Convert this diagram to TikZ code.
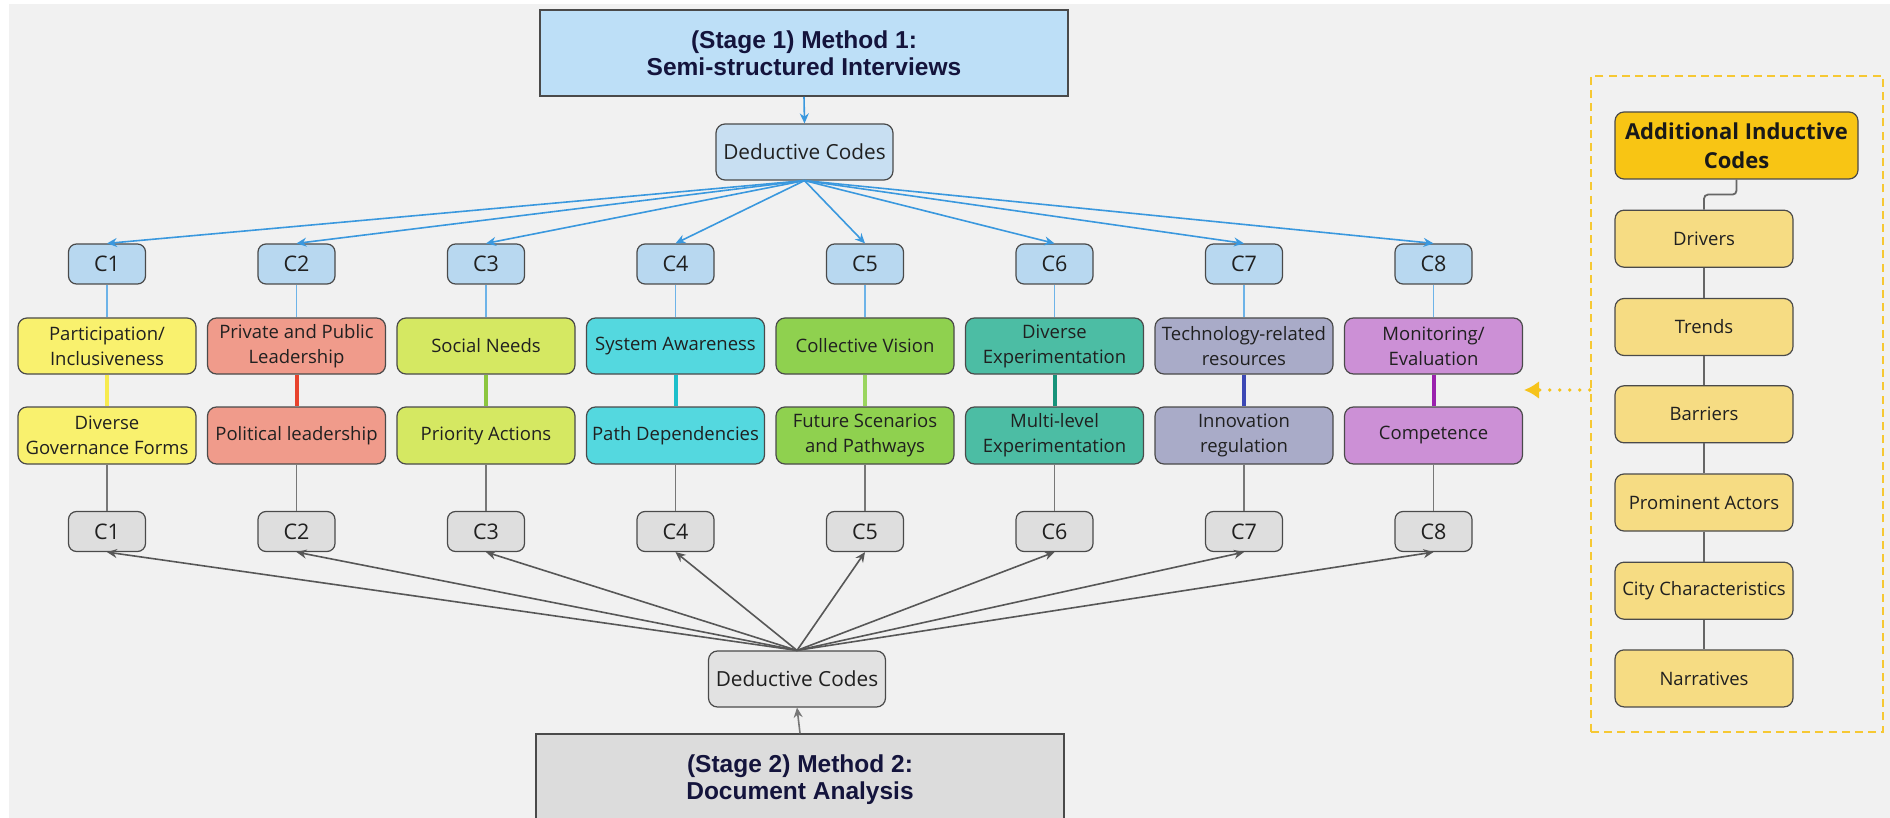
\documentclass[tikz,border=0pt]{standalone}
\usepackage{fontspec}
\usetikzlibrary{arrows.meta,calc}
\newfontfamily\bodyfont{Open Sans}
\newfontfamily\titlefont{Liberation Sans}

\definecolor{canvas}{HTML}{F1F1F1}
\definecolor{edge}{HTML}{4A4A4A}
\definecolor{ink}{HTML}{202020}
\definecolor{navy}{HTML}{14143C}
\definecolor{stageA}{HTML}{BDDFF7}
\definecolor{dedA}{HTML}{C8DFF2}
\definecolor{codeA}{HTML}{B8D8F0}
\definecolor{stageB}{HTML}{DCDCDC}
\definecolor{dedB}{HTML}{E2E2E2}
\definecolor{codeB}{HTML}{DEDEDE}
\definecolor{arrowA}{HTML}{3A98DE}
\definecolor{linkA}{HTML}{6DB3E8}
\definecolor{arrowB}{HTML}{575757}
\definecolor{linkB}{HTML}{777777}
% theme colours (box fill / joining bar)
\definecolor{fYel}{HTML}{F9F16E}\definecolor{lYel}{HTML}{F7EB4F}
\definecolor{fSal}{HTML}{F09B8B}\definecolor{lSal}{HTML}{E8432D}
\definecolor{fLim}{HTML}{D5E862}\definecolor{lLim}{HTML}{8CC63F}
\definecolor{fCya}{HTML}{54D8DF}\definecolor{lCya}{HTML}{1DBFCB}
\definecolor{fGrn}{HTML}{8FD14F}\definecolor{lGrn}{HTML}{9AD55F}
\definecolor{fTea}{HTML}{4CBDA4}\definecolor{lTea}{HTML}{17937A}
\definecolor{fLav}{HTML}{A9ABC8}\definecolor{lLav}{HTML}{3C48B5}
\definecolor{fPur}{HTML}{CC90D6}\definecolor{lPur}{HTML}{9B22AE}
% inductive panel
\definecolor{indHead}{HTML}{F8C514}
\definecolor{indItem}{HTML}{F6DC83}
\definecolor{indFrame}{HTML}{F6C833}
\definecolor{indArrow}{HTML}{F6C31B}
\definecolor{indLink}{HTML}{666666}

\begin{document}
\begin{tikzpicture}[x=0.5pt,y=-0.5pt,
  stagebox/.style={draw=edge, line width=0.8pt, minimum width=264pt,
    minimum height=43pt, inner sep=0pt, align=center, text=navy,
    font=\titlefont\bfseries\fontsize{12.25pt}{13.5pt}\selectfont},
  codebox/.style={draw=edge, line width=0.6pt, rounded corners=4.5pt,
    inner sep=0pt, align=center, text=ink,
    font=\bodyfont\fontsize{9.25pt}{12.5pt}\selectfont},
  dedbox/.style={codebox, minimum width=88.5pt, minimum height=28pt,
    font=\bodyfont\fontsize{10.4pt}{12.5pt}\selectfont},
  cbox/.style={codebox, rounded corners=4pt, minimum width=38.5pt,
    minimum height=20pt, font=\bodyfont\fontsize{10.75pt}{12pt}\selectfont},
  themebox/.style={codebox, minimum width=89pt, minimum height=28pt},
  subbox/.style={codebox, minimum width=89pt, minimum height=28.5pt},
  indbox/.style={codebox, fill=indItem, minimum width=89pt, minimum height=28.5pt},
  arrA/.style={draw=arrowA, line width=0.8pt, -{Stealth[length=5pt,width=4.5pt]}},
  arrB/.style={draw=arrowB, line width=0.8pt, -{Stealth[length=5pt,width=4.5pt]}},
  thinA/.style={draw=linkA, line width=0.6pt},
  thinB/.style={draw=linkB, line width=0.7pt},
  bar/.style={line width=2pt},
  indlink/.style={draw=indLink, line width=0.9pt}]

% canvas
\fill[white] (0,0) rectangle (1890,818);
\fill[canvas] (9,4) rectangle (1890,818);
\useasboundingbox (0,0) rectangle (1890,818);
\clip (0,0) rectangle (1890,818);

% stage 1
\node[stagebox, fill=stageA] (stage1) at (804,53) {(Stage 1) Method 1:\\Semi-structured Interviews};
\node[dedbox, fill=dedA] (ded1) at (804.5,152) {Deductive Codes};
\draw[arrA] (stage1.south) -- (ded1.north);

% stage 2
\node[stagebox, fill=stageB, minimum height=46pt] (stage2) at (800,780) {(Stage 2) Method 2:\\Document Analysis};
\node[dedbox, fill=dedB] (ded2) at (797,679) {Deductive Codes};
\draw[arrB, draw=linkB] (stage2.north) -- (ded2.south);

% code columns C1..C8
\foreach \i in {1,...,8}{
  \pgfmathsetmacro{\cx}{107+189.5*(\i-1)}
  \node[cbox, fill=codeA] (ct\i) at (\cx,264) {C\i};
  \node[cbox, fill=codeB] (cb\i) at (\cx,531.5) {C\i};
  \draw[arrA] (ded1.south) -- (ct\i.north);
  \draw[arrB] (ded2.north) -- (cb\i.south);
}

% themes (upper row) and their paired codes (lower row)
\node[themebox, fill=fYel] (ta1) at (107,346)    {Participation/\\Inclusiveness};
\node[subbox,   fill=fYel] (tb1) at (107,435.5)  {Diverse\\Governance Forms};
\node[themebox, fill=fSal] (ta2) at (296.5,346)  {Private and Public\\Leadership};
\node[subbox,   fill=fSal] (tb2) at (296.5,435.5){Political leadership};
\node[themebox, fill=fLim] (ta3) at (486,346)    {Social Needs};
\node[subbox,   fill=fLim] (tb3) at (486,435.5)  {Priority Actions};
\node[themebox, fill=fCya] (ta4) at (675.5,346)  {System Awareness};
\node[subbox,   fill=fCya] (tb4) at (675.5,435.5){Path Dependencies};
\node[themebox, fill=fGrn] (ta5) at (865,346)    {Collective Vision};
\node[subbox,   fill=fGrn] (tb5) at (865,435.5)  {Future Scenarios\\and Pathways};
\node[themebox, fill=fTea] (ta6) at (1054.5,346) {Diverse\\Experimentation};
\node[subbox,   fill=fTea] (tb6) at (1054.5,435.5){Multi-level\\Experimentation};
\node[themebox, fill=fLav] (ta7) at (1244,346)   {Technology-related\\resources};
\node[subbox,   fill=fLav] (tb7) at (1244,435.5) {Innovation\\regulation};
\node[themebox, fill=fPur] (ta8) at (1433.5,346) {Monitoring/\\Evaluation};
\node[subbox,   fill=fPur] (tb8) at (1433.5,435.5){Competence};

\foreach \i/\lc in {1/lYel,2/lSal,3/lLim,4/lCya,5/lGrn,6/lTea,7/lLav,8/lPur}{
  \draw[thinA] (ct\i.south) -- (ta\i.north);
  \draw[bar, draw=\lc] (ta\i.south) -- (tb\i.north);
  \draw[thinB] (tb\i.south) -- (cb\i.north);
}

% additional inductive codes panel
\node[draw=indFrame, line width=1.3pt, dash pattern=on 4pt off 2.6pt,
      minimum width=146pt, minimum height=328pt, inner sep=0pt] (frame) at (1737,404) {};
\node[codebox, fill=indHead, minimum width=121.5pt, minimum height=33.5pt,
      font=\bodyfont\bfseries\fontsize{11pt}{14.5pt}\selectfont, text=black!90]
      (ihead) at (1736.5,145.5) {Additional Inductive\\Codes};
\node[indbox] (i1) at (1704,238.7) {Drivers};
\node[indbox] (i2) at (1704,327)   {Trends};
\node[indbox] (i3) at (1704,414.3) {Barriers};
\node[indbox] (i4) at (1704,502.5) {Prominent Actors};
\node[indbox] (i5) at (1704,590.7) {City Characteristics};
\node[indbox] (i6) at (1704,678.4) {Narratives};
\draw[indlink, rounded corners=2pt] (ihead.south) -- ++(0,15) -| (i1.north);
\foreach \a/\b in {1/2,2/3,3/4,4/5,5/6}{
  \draw[indlink] (i\a.south) -- (i\b.north);
}

% dotted pointer from the panel to the C8 column
\coordinate (tip) at (1524,390);
\draw[draw=indArrow, line width=1.8pt, line cap=round, dash pattern=on 0pt off 5pt,
      -{Latex[length=7.5pt,width=9pt,fill=indArrow]}] (frame.west |- tip) -- (tip);

\end{tikzpicture}
\end{document}
